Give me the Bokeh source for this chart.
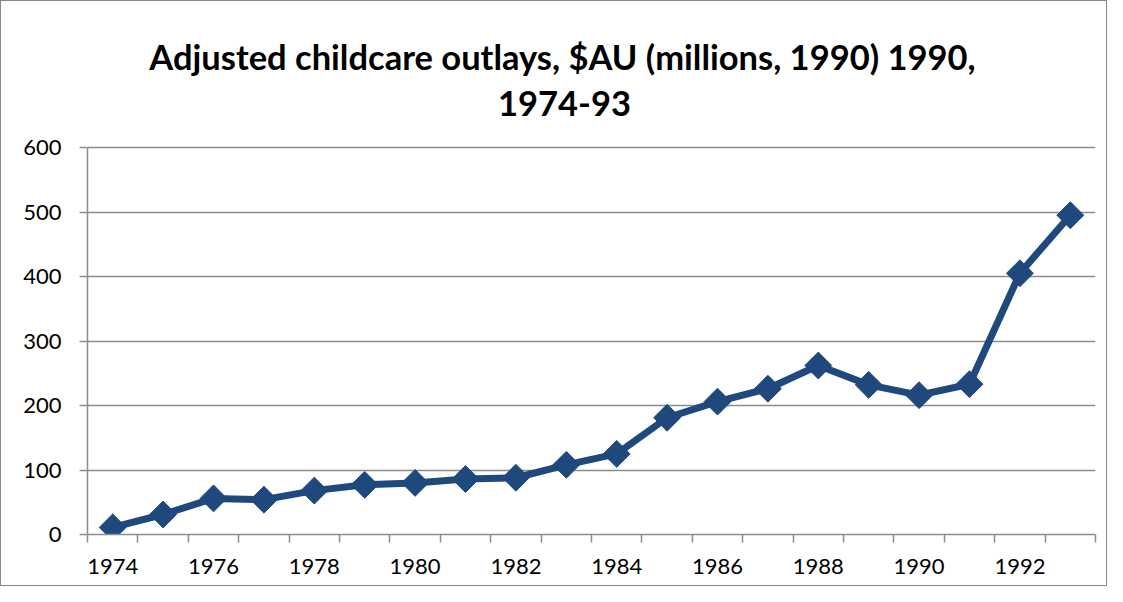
import math
from bokeh.plotting import figure
from bokeh.models import Range1d, FixedTicker, ColumnDataSource, Label
from bokeh.embed import file_html
from bokeh.resources import INLINE

years = list(range(1974, 1994))
outlays = [11, 31, 56, 54, 68, 77, 80, 86, 88, 108, 125, 181, 206, 226, 262, 232, 216, 233, 405, 495]
tick_years = [1974, 1976, 1978, 1980, 1982, 1984, 1986, 1988, 1990, 1992]
y_ticks = [0, 100, 200, 300, 400, 500, 600]
title_lines = ["Adjusted childcare outlays, $AU (millions, 1990) 1990,", "1974-93"]

x_pos = [yr - years[0] + 0.5 for yr in years]
src = ColumnDataSource(dict(x=x_pos, y=outlays))

LINE = "#1F497D"
GRID = "#8C8C8C"
FONT = "Lato"
W, H = 1107, 586
BL, BR, BB = 86, 13, 53      # borders around the frame (px)
PLOT_TOP = 146               # canvas px where the value axis ends (600)
X0, X1 = 0, len(years)
Y0, Y1 = 0, 600

# frame reaches the top of the canvas so the title (inside it) is not clipped
fw = W - BL - BR
fh_plot = H - BB - PLOT_TOP
y_end = Y1 + PLOT_TOP * (Y1 - Y0) / fh_plot

p = figure(width=W, height=H, output_backend="svg", toolbar_location=None,
           x_range=Range1d(X0, X1), y_range=Range1d(Y0, y_end))
p.min_border_left = BL
p.min_border_right = BR
p.min_border_bottom = BB
p.min_border_top = 0
p.outline_line_color = None
p.styles = {"border": "1px solid #868686", "box-sizing": "border-box"}

def px_x(sx):
    return X0 + (sx - BL) * (X1 - X0) / fw
def px_y(sy):
    return Y1 + (PLOT_TOP - sy) * (Y1 - Y0) / fh_plot

p.line("x", "y", source=src, line_color=LINE, line_width=7, line_join="round")
p.scatter("x", "y", source=src, marker="square", size=19, angle=math.pi / 4,
          fill_color=LINE, line_color=LINE)

# x axis
label_pos = [yr - years[0] + 0.5 for yr in tick_years]
p.xaxis.ticker = FixedTicker(ticks=label_pos, minor_ticks=list(range(0, len(years) + 1)))
p.xaxis.major_label_overrides = {lp: str(yr) for lp, yr in zip(label_pos, tick_years)}
p.xaxis.major_tick_out = 0
p.xaxis.major_tick_in = 0
p.xaxis.minor_tick_out = 8
p.xaxis.minor_tick_in = 0
p.xaxis.minor_tick_line_color = GRID
p.xaxis.minor_tick_line_width = 1.5
p.xaxis.axis_line_color = GRID
p.xaxis.axis_line_width = 1.5
p.xaxis.major_label_text_font = FONT
p.xaxis.major_label_text_font_size = "22px"
p.xaxis.major_label_text_color = "black"
p.xaxis.major_label_standoff = 16
p.xgrid.visible = False

# y axis (line stops at 600)
p.yaxis.ticker = FixedTicker(ticks=y_ticks)
p.yaxis.bounds = (Y0, Y1)
p.yaxis.major_tick_out = 8
p.yaxis.major_tick_in = 0
p.yaxis.minor_tick_line_color = None
p.yaxis.major_tick_line_color = GRID
p.yaxis.major_tick_line_width = 1.5
p.yaxis.axis_line_color = GRID
p.yaxis.axis_line_width = 1.5
p.yaxis.major_label_text_font = FONT
p.yaxis.major_label_text_font_size = "22px"
p.yaxis.major_label_text_color = "black"
p.yaxis.major_label_standoff = 18
p.ygrid.grid_line_color = GRID
p.ygrid.grid_line_width = 1.5

# two-line title, centred on the whole chart
for txt, cx, by in zip(title_lines, [561, 563], [55, 102]):
    p.add_layout(Label(x=px_x(cx), y=px_y(by), text=txt,
                       text_align="center", text_baseline="alphabetic",
                       text_font=FONT, text_font_size="34.5px", text_font_style="bold",
                       text_color="black"))

open("out.html", "w").write(file_html(p, INLINE))
